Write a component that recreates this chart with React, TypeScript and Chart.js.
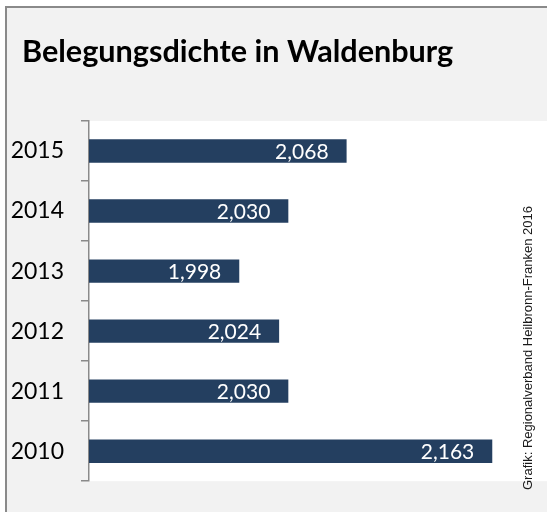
import React, { useEffect, useRef } from 'react';
import { Chart, registerables } from 'chart.js';

Chart.register(...registerables);

const TITLE = 'Belegungsdichte in Waldenburg';
const SOURCE = 'Grafik: Regionalverband Heilbronn-Franken 2016';
const YEARS = ['2015', '2014', '2013', '2012', '2011', '2010'];
const VALUES = [2.068, 2.03, 1.998, 2.024, 2.03, 2.163];
const X_MIN = 1.9;
const X_MAX = 2.2;

const BAR = '#243F60';
const FRAME_BG = '#F2F2F2';
const BORDER = '#8A8A8A';
const FONT = 'Lato, "Open Sans", sans-serif';
const SRC_FONT = '"Liberation Sans", Arial, sans-serif';

const fmt = (v: number) => v.toFixed(3).replace('.', ',');

const decorPlugin = {
  id: 'decor',
  beforeDraw(chart: any) {
    const ctx = chart.ctx as CanvasRenderingContext2D;
    const { width, height } = chart;
    const ca = chart.chartArea;
    ctx.save();
    ctx.fillStyle = '#ffffff';
    ctx.fillRect(0, 0, width, height);
    ctx.fillStyle = FRAME_BG;
    ctx.fillRect(5, 6, width - 5, height - 6);
    ctx.strokeStyle = BORDER;
    ctx.lineWidth = 2;
    ctx.beginPath();
    ctx.moveTo(6, height);
    ctx.lineTo(6, 7);
    ctx.lineTo(width, 7);
    ctx.stroke();
    ctx.fillStyle = '#ffffff';
    ctx.fillRect(ca.left, ca.top, width - ca.left, ca.bottom - ca.top);
    // title, fitted to reference width
    ctx.font = `bold 100px ${FONT}`;
    const w100 = ctx.measureText(TITLE).width;
    const size = (431 / w100) * 100;
    ctx.font = `bold ${size.toFixed(1)}px ${FONT}`;
    ctx.fillStyle = '#000000';
    ctx.textBaseline = 'alphabetic';
    ctx.textAlign = 'left';
    ctx.fillText(TITLE, 22, 62);
    ctx.restore();
  },
  afterDatasetsDraw(chart: any) {
    const ctx = chart.ctx as CanvasRenderingContext2D;
    const meta = chart.getDatasetMeta(0);
    ctx.save();
    ctx.fillStyle = '#ffffff';
    ctx.font = `21px ${FONT}`;
    ctx.textAlign = 'right';
    ctx.textBaseline = 'middle';
    meta.data.forEach((bar: any, i: number) => {
      ctx.fillText(fmt(VALUES[i]), bar.x - 18, bar.y + 1);
    });
    ctx.restore();
    // source text, rotated, fitted to reference length
    ctx.save();
    ctx.font = `100px ${SRC_FONT}`;
    const w100 = ctx.measureText(SOURCE).width;
    const size = (283 / w100) * 100;
    ctx.translate(528, 490);
    ctx.rotate(-Math.PI / 2);
    ctx.fillStyle = '#1a1a1a';
    ctx.font = `${size.toFixed(1)}px ${SRC_FONT}`;
    ctx.textAlign = 'left';
    ctx.textBaseline = 'middle';
    ctx.fillText(SOURCE, 0, 0);
    ctx.restore();
  },
};

export default function App() {
  const ref = useRef<HTMLCanvasElement | null>(null);

  useEffect(() => {
    if (!ref.current) return;
    const chart = new Chart(ref.current, {
      type: 'bar',
      data: {
        labels: YEARS,
        datasets: [
          {
            data: VALUES,
            backgroundColor: BAR,
            borderWidth: 0,
            barPercentage: 0.39,
            categoryPercentage: 1,
          },
        ],
      },
      options: {
        indexAxis: 'y',
        responsive: false,
        animation: false,
        layout: { padding: { top: 121, bottom: 18, left: 0, right: 0 } },
        plugins: {
          legend: { display: false },
          tooltip: { enabled: false },
          title: { display: false },
        },
        scales: {
          x: { display: false, min: X_MIN, max: X_MAX },
          y: {
            grid: {
              offset: true,
              drawOnChartArea: false,
              drawTicks: true,
              tickLength: 8,
              color: BORDER,
              lineWidth: 1.5,
            },
            border: { display: true, color: BORDER, width: 1.5 },
            ticks: {
              color: '#000000',
              font: { family: FONT, size: 23 },
              padding: 17,
            },
            afterFit: (s: any) => {
              s.width = 89;
            },
          },
        },
      },
      plugins: [decorPlugin],
    } as any);
    return () => chart.destroy();
  }, []);

  return (
    <div
      style={{
        position: 'fixed',
        left: 0,
        top: 0,
        width: 547,
        height: 512,
        overflow: 'hidden',
        background: '#fff',
      }}
    >
      <canvas ref={ref} width={549} height={512} style={{ width: 549, height: 512, display: 'block' }} />
    </div>
  );
}
